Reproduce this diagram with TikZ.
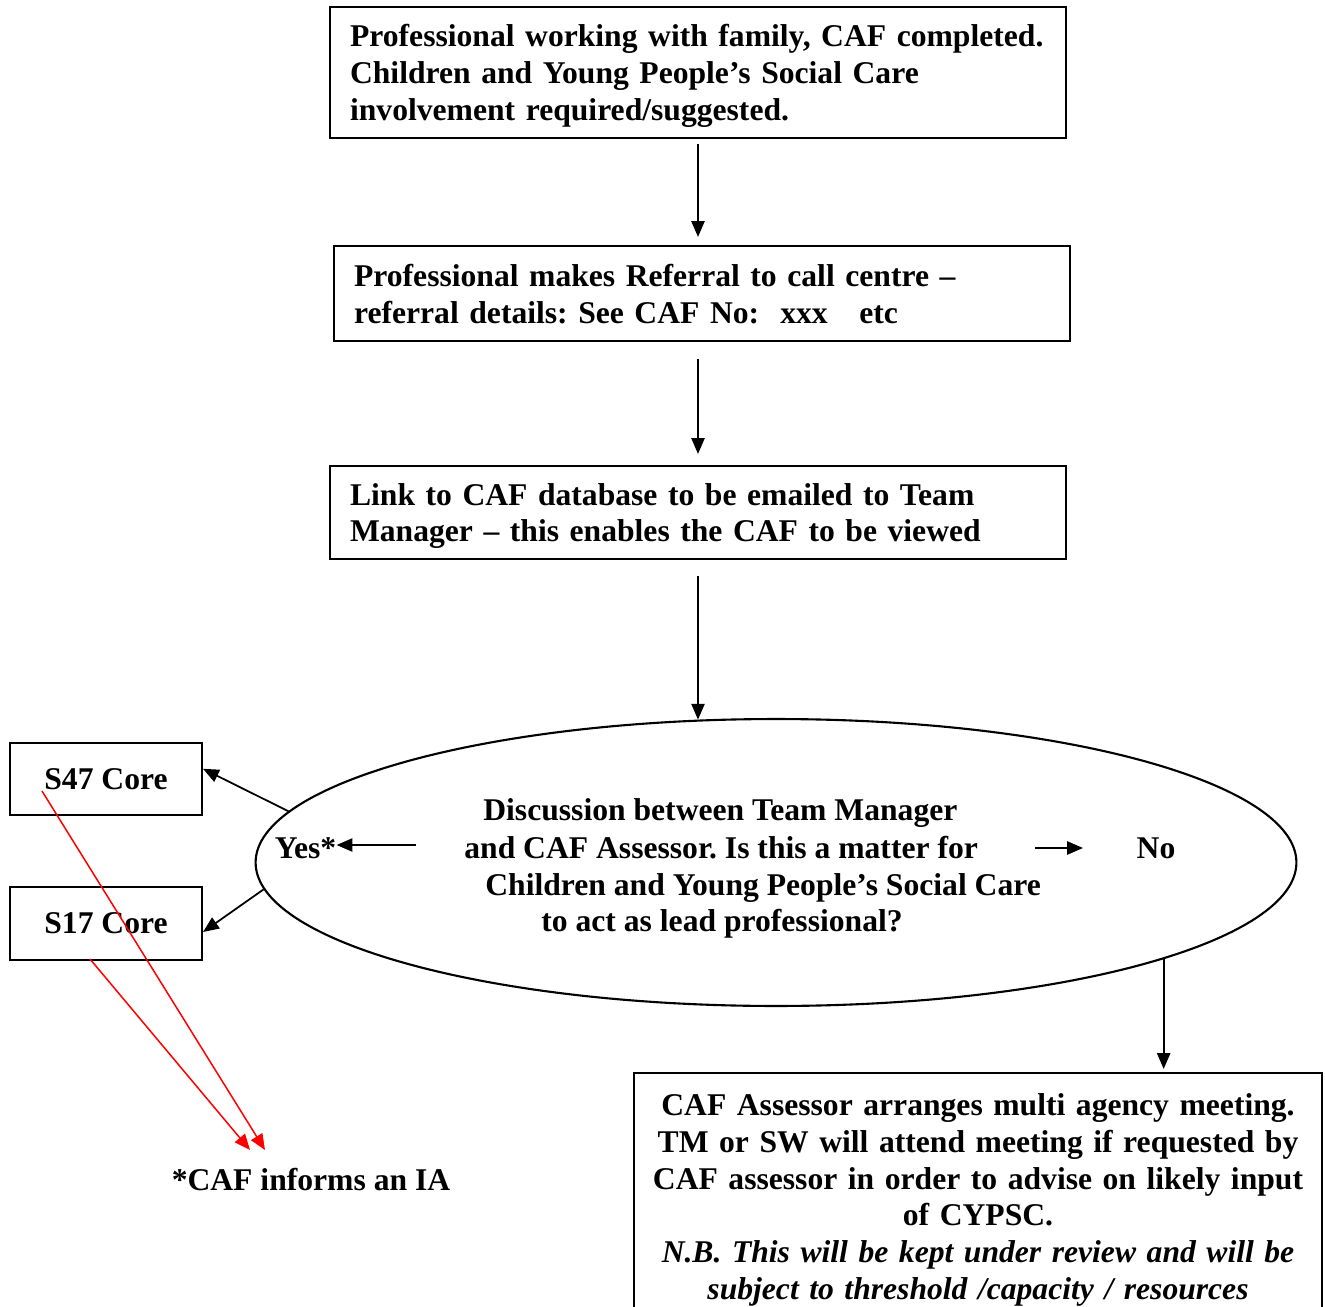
\documentclass[tikz,border=0pt]{standalone}
\usepackage{fontspec}
\setmainfont{Liberation Serif}
\usetikzlibrary{shapes.geometric,arrows.meta}

\tikzset{
  txt/.style={inner sep=0pt, font=\bfseries\fontsize{18}{21}\selectfont\frenchspacing},
  box/.style={txt, draw, line width=1.2pt, align=left, text width=13.92cm, inner xsep=0.4cm},
  corebox/.style={txt, draw, line width=1.2pt, minimum width=3.84cm, minimum height=1.45cm},
  arr/.style={-{Triangle[length=9pt,width=7.5pt]}, line width=1pt},
  redarr/.style={arr, draw=red, line width=0.85pt}
}

\begin{document}
\begin{tikzpicture}[x=0.02cm,y=-0.02cm]
\useasboundingbox (0,0) rectangle (1325,1307);

% boxes down the middle
\node[box, minimum height=2.62cm, text depth=42pt] (caf) at (698,72.5)
  {Professional working with family, CAF completed.\\
   Children and Young People’s Social Care\\
   involvement required/suggested.};
\node[box, minimum height=1.9cm, text depth=21pt] (call) at (702,293.5)
  {Professional makes Referral to call centre –\\
   referral details: See CAF No:\ \ xxx\ \ \ etc};
\node[box, minimum height=1.86cm, text depth=21pt] (link) at (698,512.5)
  {Link to CAF database to be emailed to Team\\
   Manager – this enables the CAF to be viewed};

% discussion
\node[ellipse, draw, line width=1.2pt, minimum width=20.82cm, minimum height=5.74cm, inner sep=0pt] (talk) at (776,862.5) {};
\node[txt, anchor=base west] (q1) at (483,820) {Discussion between Team Manager};
\node[txt, anchor=base west] (q2) at (464,858) {and CAF Assessor. Is this a matter for};
\node[txt, anchor=base west] (q3) at (485,895) {Children and Young People’s Social Care};
\node[txt, anchor=base west] (q4) at (541,931) {to act as lead professional?};
\node[txt] (yes) at (305.5,848) {Yes*};
\node[txt] (no) at (1156,848) {No};
\coordinate (yesfrom) at (416,845);
\coordinate (nofrom) at (1035,848);
\coordinate (noto) at (1083,848);

% core boxes
\node[corebox] (s47) at (106,779) {S47 Core};
\node[corebox] (s17) at (106,923.5) {S17 Core};
\node[txt] (note) at (311,1180) {*CAF informs an IA};

% meeting
\node[txt, draw, line width=1.2pt, align=center, text width=13.3cm, text depth=105pt, minimum width=13.76cm, minimum height=4.94cm] (meet) at (978,1196.5)
  {CAF Assessor arranges multi agency meeting.\\
   TM or SW will attend meeting if requested by\\
   CAF assessor in order to advise on likely input\\
   of CYPSC.\\
   \itshape N.B. This will be kept under review and will be\\
   \itshape subject to threshold /capacity / resources};

% arrows
\draw[arr, shorten <=0.1cm, shorten >=0.16cm] (caf.south) -- (caf.south |- call.north);
\draw[arr, shorten <=0.34cm, shorten >=0.22cm] (call.south -| link.north) -- (link.north);
\draw[arr, shorten <=0.32cm] (link.south) -- (link.south |- talk.119);
\draw[arr] (talk.174.6) -- (s47.6.5);
\draw[arr] (talk.183) -- (s17.-5.6);
\draw[arr] (yesfrom) -- (yesfrom -| yes.east);
\draw[arr] (nofrom) -- (noto);
\draw[arr, shorten >=0.06cm] (talk.-14) -- (talk.-14 |- meet.north);

% red ones
\coordinate (r47) at (42,791);
\coordinate (r17) at (90,959);
\draw[redarr] (r47) -- ([shift={(-46,-30)}]note.center);
\draw[redarr] (r17) -- ([shift={(-61,-30)}]note.center);
\end{tikzpicture}
\end{document}
